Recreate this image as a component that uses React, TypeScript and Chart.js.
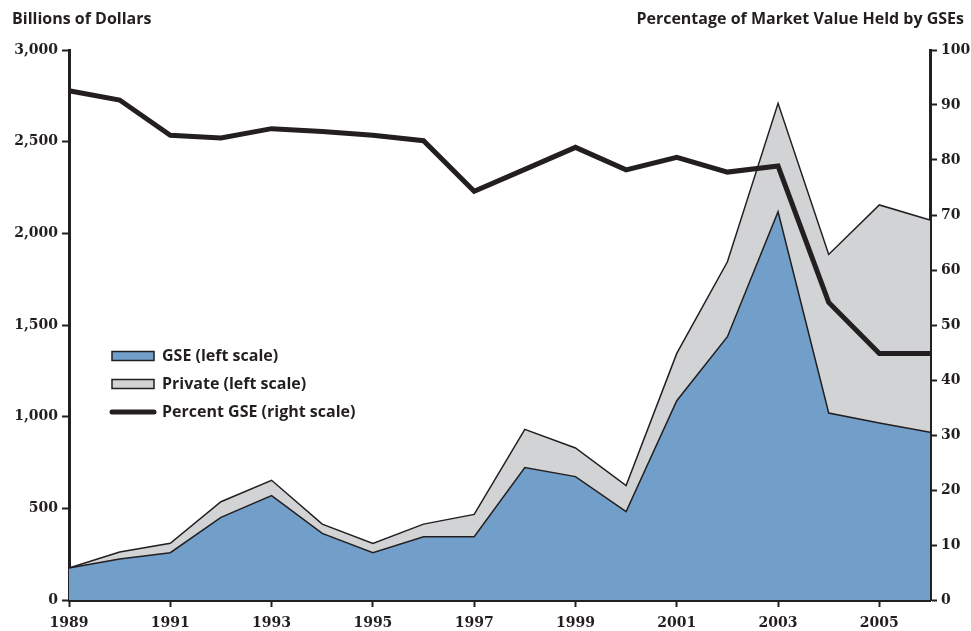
import React, { useEffect, useRef } from "react";
import { Chart, registerables } from "chart.js";

Chart.register(...registerables);

const years = ["1989","1990","1991","1992","1993","1994","1995","1996","1997","1998","1999","2000","2001","2002","2003","2004","2005","2006"];
const gseValues = [175, 224, 258, 451, 569, 363, 258, 345, 345, 722, 673, 482, 1087, 1436, 2118, 1020, 965, 915];
const privateValues = [0, 38, 51, 85, 84, 51, 51, 69, 122, 209, 156, 142, 258, 409, 591, 865, 1190, 1158];
const percentValues = [92.6, 90.9, 84.5, 84.0, 85.7, 85.2, 84.5, 83.5, 74.3, 78.3, 82.3, 78.2, 80.5, 77.8, 78.9, 54.1, 44.8, 44.8];
const legendLabels = ["GSE (left scale)", "Private (left scale)", "Percent GSE (right scale)"];
const leftTitle = "Billions of Dollars";
const rightTitle = "Percentage of Market Value Held by GSEs";

const INK = "#231f20";
const BLUE = "#729fca";
const GRAY = "#d1d3d4";
const TICK_FONT = { family: "'DejaVu Serif', serif", size: 14, weight: "bold" as const };
const TEXT_FONT = "bold 16px 'Open Sans', Lato, sans-serif";

const overlayPlugin = {
  id: "overlay",
  afterDraw(chart: any) {
    const ctx = chart.ctx;
    ctx.save();
    ctx.fillStyle = INK;
    ctx.font = TEXT_FONT;
    ctx.textBaseline = "alphabetic";
    ctx.textAlign = "left";
    ctx.fillText(leftTitle, 12, 24);
    ctx.textAlign = "right";
    ctx.fillText(rightTitle, 964, 24);
    // legend
    const bx = 112, bw = 42, bh = 9;
    const rows = [356, 384, 412];
    ctx.textAlign = "left";
    ctx.textBaseline = "middle";
    ctx.font = TEXT_FONT;
    rows.forEach((cy, i) => {
      if (i < 2) {
        ctx.fillStyle = i === 0 ? BLUE : GRAY;
        ctx.fillRect(bx, cy - bh / 2, bw, bh);
        ctx.strokeStyle = INK;
        ctx.lineWidth = 1.5;
        ctx.strokeRect(bx, cy - bh / 2, bw, bh);
      } else {
        ctx.strokeStyle = INK;
        ctx.lineWidth = 5;
        ctx.lineCap = "round";
        ctx.beginPath();
        ctx.moveTo(bx, cy);
        ctx.lineTo(bx + bw, cy);
        ctx.stroke();
      }
      ctx.fillStyle = INK;
      ctx.fillText(legendLabels[i], 162, cy);
    });
    ctx.restore();
  },
};

export default function App() {
  const ref = useRef<HTMLCanvasElement>(null);
  useEffect(() => {
    if (!ref.current) return;
    const axisGrid = {
      drawOnChartArea: false,
      drawTicks: true,
      tickLength: 7,
      tickWidth: 2,
      tickColor: INK,
    };
    const chart = new Chart(ref.current, {
      type: "line",
      data: {
        labels: years,
        datasets: [
          {
            label: legendLabels[0],
            data: gseValues,
            yAxisID: "y",
            backgroundColor: BLUE,
            borderColor: INK,
            borderWidth: 1.5,
            fill: "origin",
            pointRadius: 0,
            tension: 0,
            order: 1,
          },
          {
            label: legendLabels[1],
            data: privateValues,
            yAxisID: "y",
            backgroundColor: GRAY,
            borderColor: INK,
            borderWidth: 1.5,
            fill: "-1",
            pointRadius: 0,
            tension: 0,
            order: 1,
          },
          {
            label: legendLabels[2],
            data: percentValues,
            yAxisID: "y1",
            borderColor: INK,
            borderWidth: 5,
            fill: false,
            pointRadius: 0,
            tension: 0,
            borderJoinStyle: "miter",
            order: 0,
          },
        ] as any,
      },
      options: {
        animation: false,
        responsive: true,
        maintainAspectRatio: false,
        layout: { padding: { top: 50, left: 0, right: 0, bottom: 0 } },
        plugins: { legend: { display: false }, tooltip: { enabled: false } },
        scales: {
          x: {
            type: "category",
            offset: false,
            grid: axisGrid,
            border: { display: true, color: INK, width: 3 },
            ticks: {
              autoSkip: false,
              maxRotation: 0,
              color: INK,
              font: TICK_FONT,
              padding: 8,
              callback: (_v: any, i: number) => (i % 2 === 0 ? years[i] : null),
            },
            afterFit: (s: any) => { s.height = 31; },
          },
          y: {
            position: "left",
            stacked: true,
            min: 0,
            max: 3000,
            grid: axisGrid,
            border: { display: true, color: INK, width: 3 },
            ticks: {
              stepSize: 500,
              color: INK,
              font: TICK_FONT,
              padding: 4,
              callback: (v: any) => Number(v).toLocaleString("en-US"),
            },
            afterFit: (s: any) => { s.width = 69; },
          },
          y1: {
            position: "right",
            min: 0,
            max: 100,
            grid: axisGrid,
            border: { display: true, color: INK, width: 3 },
            ticks: { stepSize: 10, color: INK, font: TICK_FONT, padding: 4 },
            afterFit: (s: any) => { s.width = 41; },
          },
        },
      } as any,
      plugins: [overlayPlugin],
    });
    return () => chart.destroy();
  }, []);
  return (
    <div style={{ position: "absolute", left: 0, top: 0, width: 971, height: 631, background: "#fff" }}>
      <canvas ref={ref} />
    </div>
  );
}
